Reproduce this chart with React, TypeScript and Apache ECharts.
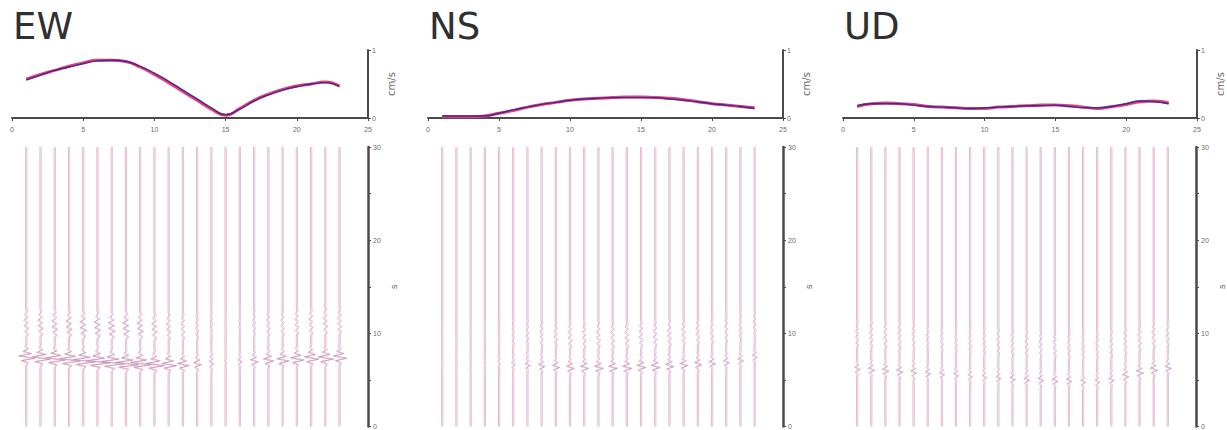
import React, { useEffect, useRef } from "react";
import * as echarts from "echarts";

// station positions (km along the array)
const stations = [1, 2, 3, 4, 5, 6, 7, 8, 9, 10, 11, 12, 13, 14, 15, 16, 17, 18, 19, 20, 21, 22, 23];

// peak ground velocity (cm/s), observed (red) and synthetic (blue)
const ewRed = [0.57, 0.64, 0.70, 0.76, 0.81, 0.85, 0.85, 0.83, 0.75, 0.64, 0.52, 0.39, 0.26, 0.13, 0.04, 0.14, 0.26, 0.35, 0.42, 0.47, 0.50, 0.53, 0.47];
const ewBlue = [0.56, 0.63, 0.70, 0.75, 0.80, 0.84, 0.85, 0.83, 0.76, 0.66, 0.54, 0.41, 0.28, 0.15, 0.05, 0.13, 0.25, 0.34, 0.41, 0.46, 0.50, 0.52, 0.46];
const nsRed = [0.02, 0.02, 0.02, 0.03, 0.07, 0.11, 0.16, 0.20, 0.23, 0.26, 0.28, 0.29, 0.30, 0.31, 0.31, 0.30, 0.29, 0.27, 0.24, 0.21, 0.19, 0.17, 0.15];
const nsBlue = [0.03, 0.03, 0.03, 0.03, 0.07, 0.12, 0.16, 0.20, 0.23, 0.26, 0.28, 0.29, 0.30, 0.30, 0.30, 0.30, 0.28, 0.26, 0.24, 0.21, 0.19, 0.17, 0.14];
const udRed = [0.17, 0.21, 0.22, 0.21, 0.20, 0.17, 0.16, 0.15, 0.14, 0.14, 0.16, 0.17, 0.18, 0.19, 0.19, 0.18, 0.16, 0.14, 0.17, 0.20, 0.24, 0.25, 0.22];
const udBlue = [0.18, 0.21, 0.21, 0.21, 0.19, 0.17, 0.16, 0.15, 0.14, 0.15, 0.16, 0.17, 0.18, 0.18, 0.19, 0.17, 0.15, 0.15, 0.17, 0.21, 0.25, 0.24, 0.21];

// main arrival time (s) at each station
const ewArrival = [7.4, 7.3, 7.2, 7.1, 7.0, 6.9, 6.8, 6.7, 6.7, 6.6, 6.6, 6.6, 6.7, 6.8, 6.9, 7.0, 7.0, 7.1, 7.1, 7.2, 7.3, 7.3, 7.4];
const nsArrival = [6.5, 6.5, 6.5, 6.6, 6.8, 6.7, 6.6, 6.5, 6.4, 6.3, 6.3, 6.3, 6.3, 6.3, 6.4, 6.4, 6.5, 6.6, 6.7, 6.8, 6.9, 7.1, 7.5];
const udArrival = [6.2, 6.1, 6.0, 5.9, 5.8, 5.7, 5.6, 5.5, 5.4, 5.3, 5.2, 5.1, 5.0, 5.0, 4.9, 4.9, 4.8, 4.8, 5.0, 5.4, 5.8, 6.1, 6.3];
// later (coda) wave onset (s) at each station
const ewCoda = [9.6, 9.6, 9.5, 9.5, 9.4, 9.4, 9.3, 9.3, 9.3, 9.2, 9.2, 9.2, 9.3, 9.4, 9.5, 9.5, 9.6, 9.6, 9.6, 9.7, 9.7, 9.8, 9.8];
const nsCoda = [8.6, 8.6, 8.6, 8.6, 8.7, 8.6, 8.5, 8.4, 8.4, 8.3, 8.3, 8.3, 8.3, 8.3, 8.4, 8.4, 8.5, 8.6, 8.7, 8.8, 8.9, 9.1, 9.4];
const udCoda = [8.4, 8.3, 8.3, 8.2, 8.1, 8.0, 7.9, 7.8, 7.7, 7.6, 7.5, 7.4, 7.3, 7.3, 7.2, 7.2, 7.1, 7.1, 7.3, 7.6, 8.0, 8.3, 8.5];

// hand-read wave shapes: time offset (s) and relative amplitude
const waveletT = [-0.9, -0.6, -0.35, -0.1, 0.15, 0.4, 0.65, 0.9, 1.15, 1.45, 1.8];
const waveletA = [0, 0.2, -0.55, 1.0, -0.85, 0.55, -0.35, 0.2, -0.1, 0.04, 0];
const codaT = [0, 0.3, 0.6, 0.9, 1.2, 1.5, 1.8, 2.1, 2.4, 2.7, 3.0];
const codaA = [0, 0.6, -0.5, 0.8, -0.7, 0.6, -0.8, 0.5, -0.4, 0.3, 0];

const xTicks = [0, 5, 10, 15, 20, 25];
const timeTicks = [0, 10, 20, 30];

const components = [
  { name: "EW", red: ewRed, blue: ewBlue, arr: ewArrival, coda: ewCoda, codaGain: 0.32 },
  { name: "NS", red: nsRed, blue: nsBlue, arr: nsArrival, coda: nsCoda, codaGain: 0.5 },
  { name: "UD", red: udRed, blue: udBlue, arr: udArrival, coda: udCoda, codaGain: 0.5 },
];

const panelLeft = [12, 428, 843];
const panelWidth = [356, 355, 354];

function buildTrace(pos: number, amp: number, arr: number, coda: number, codaGain: number, shift: number) {
  const pts: number[][] = [[pos + shift, 0]];
  const mid: number[][] = [];
  waveletT.forEach((t, i) => mid.push([pos + shift + amp * 1.05 * waveletA[i], arr + t]));
  codaT.forEach((t, i) => mid.push([pos + shift + amp * codaGain * codaA[i], coda + t]));
  mid.sort((a, b) => a[1] - b[1]);
  return pts.concat(mid, [[pos + shift, 30]]);
}

export default function App() {
  const ref = useRef<HTMLDivElement>(null);
  useEffect(() => {
    document.body.style.margin = "0";
    if (!ref.current) return;
    const chart = echarts.init(ref.current, undefined, { renderer: "svg" });
    const grids: any[] = [];
    const xAxes: any[] = [];
    const yAxes: any[] = [];
    const series: any[] = [];
    const titles: any[] = [];
    const axisColor = "#4a4a4a";
    const labelColor = "#6a6a6a";
    components.forEach((c, p) => {
      const left = panelLeft[p];
      const width = panelWidth[p];
      titles.push({
        text: c.name,
        left: left - 4,
        top: 3,
        textStyle: { fontSize: 37, fontWeight: "normal", color: "#303030", fontFamily: "DejaVu Sans" },
      });
      grids.push({ left, top: 50, width, height: 68 });
      grids.push({ left, top: 147, width, height: 280 });
      const gTop = p * 2;
      const gBot = p * 2 + 1;
      xAxes.push({
        gridIndex: gTop, type: "value", min: 0, max: 25, interval: 5,
        axisLine: { show: true, onZero: false, lineStyle: { color: axisColor, width: 2 } },
        axisTick: { show: true, length: 3, lineStyle: { color: axisColor } },
        axisLabel: { fontSize: 7, color: labelColor, margin: 8, formatter: (v: number) => (xTicks.includes(v) ? String(v) : "") },
        splitLine: { show: false },
      });
      xAxes.push({ gridIndex: gBot, type: "value", min: 0, max: 25, show: false, splitLine: { show: false } });
      yAxes.push({
        gridIndex: gTop, type: "value", position: "right", min: 0, max: 1, interval: 1,
        axisLine: { show: true, onZero: false, lineStyle: { color: axisColor, width: 2 } },
        axisTick: { show: true, length: 3, lineStyle: { color: axisColor } },
        axisLabel: { fontSize: 7, color: labelColor, margin: 4 },
        splitLine: { show: false },
        name: "cm/s", nameLocation: "middle", nameGap: 18, nameRotate: 90,
        nameTextStyle: { fontSize: 10, color: "#666", fontFamily: "DejaVu Sans" },
      });
      yAxes.push({
        gridIndex: gBot, type: "value", position: "right", min: 0, max: 30, interval: 5,
        axisLine: { show: true, onZero: false, lineStyle: { color: axisColor, width: 2.5 } },
        axisTick: { show: true, length: 3, lineStyle: { color: axisColor } },
        axisLabel: { fontSize: 7, color: labelColor, margin: 5, formatter: (v: number) => (timeTicks.includes(v) ? String(v) : "") },
        splitLine: { show: false },
        name: "s", nameLocation: "middle", nameGap: 21, nameRotate: 90,
        nameTextStyle: { fontSize: 9, color: "#666" },
      });
      const xi = p * 2;
      series.push({
        type: "line", xAxisIndex: xi, yAxisIndex: xi, symbol: "none", smooth: true, silent: true,
        lineStyle: { color: "#f03c6a", width: 3 },
        data: stations.map((s, i) => [s, c.red[i]]),
      });
      series.push({
        type: "line", xAxisIndex: xi, yAxisIndex: xi, symbol: "none", smooth: true, silent: true,
        lineStyle: { color: "#3a2a9c", width: 1.4 },
        data: stations.map((s, i) => [s, c.blue[i]]),
      });
      stations.forEach((s, i) => {
        series.push({
          type: "line", xAxisIndex: xi + 1, yAxisIndex: xi + 1, symbol: "none", silent: true,
          lineStyle: { color: "#f2a3bd", width: 1, opacity: 0.85 },
          data: buildTrace(s, c.red[i], c.arr[i], c.coda[i], c.codaGain, -0.04),
        });
        series.push({
          type: "line", xAxisIndex: xi + 1, yAxisIndex: xi + 1, symbol: "none", silent: true,
          lineStyle: { color: "#9a86b0", width: 0.8, opacity: 0.55 },
          data: buildTrace(s, c.blue[i], c.arr[i] + 0.05, c.coda[i] + 0.05, c.codaGain, 0.05),
        });
      });
    });
    chart.setOption({
      animation: false,
      backgroundColor: "#ffffff",
      title: titles,
      grid: grids,
      xAxis: xAxes,
      yAxis: yAxes,
      series,
    });
    return () => chart.dispose();
  }, []);
  return <div ref={ref} style={{ width: 1227, height: 430 }} />;
}
